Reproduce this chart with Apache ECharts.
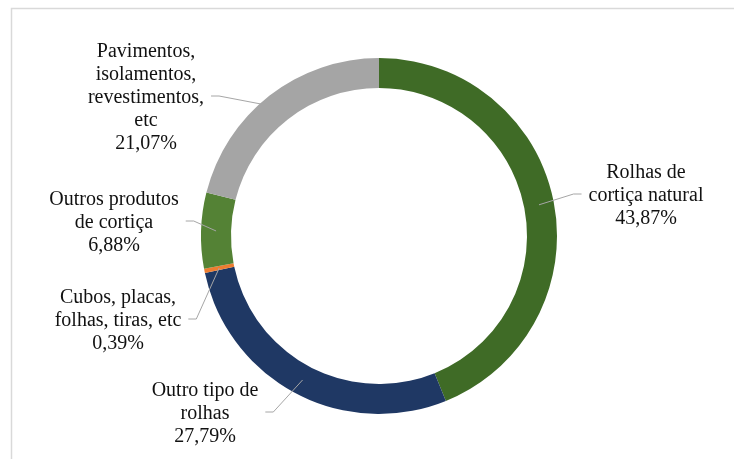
<!DOCTYPE html>
<html>
<head>
<meta charset="utf-8">
<script src="https://cdn.jsdelivr.net/npm/echarts@6/dist/echarts.min.js"></script>
<style>
  html, body { margin: 0; padding: 0; background: #ffffff; }
  #chart { width: 734px; height: 459px; }
</style>
</head>
<body>
<div id="chart"></div>
<script>
// Categories of cork products (label text, wrapped as shown) and their shares in %
const categories = [
  'Rolhas de\ncortiça natural',
  'Outro tipo de\nrolhas',
  'Cubos, placas,\nfolhas, tiras, etc',
  'Outros produtos\nde cortiça',
  'Pavimentos,\nisolamentos,\nrevestimentos,\netc'
];
const shares = [43.87, 27.79, 0.39, 6.88, 21.07];
const colors = ['#3f6b26', '#1f3864', '#ed7d31', '#548235', '#a5a5a5'];

// Ring geometry and where each label block sits
const CENTER = [379, 236];
const RADII = [148, 178];
const GUIDE_R = 163;
const labelSpots = [
  [646, 196],
  [205, 414],
  [118, 321],
  [114, 223],
  [146, 98]
];

const total = shares.reduce((a, b) => a + b, 0);
function midAngle(i) {
  let before = 0;
  for (let k = 0; k < i; k++) before += shares[k];
  return (before + shares[i] / 2) / total * 2 * Math.PI;
}

const pieData = categories.map((name, i) => ({
  name: name,
  value: shares[i],
  itemStyle: { color: colors[i] }
}));

const chart = echarts.init(document.getElementById('chart'), null, { renderer: 'canvas' });

chart.setOption({
  backgroundColor: '#ffffff',
  animation: false,
  graphic: [{
    type: 'rect',
    shape: { x: 11.5, y: 8.5, width: 900, height: 700 },
    style: { fill: 'none', stroke: '#d9d9d9', lineWidth: 1.5 },
    silent: true
  }],
  series: [
    // the coloured ring
    {
      type: 'pie',
      z: 2,
      center: CENTER,
      radius: RADII,
      startAngle: 90,
      clockwise: true,
      silent: true,
      itemStyle: { borderWidth: 0 },
      label: { show: false },
      labelLine: { show: false },
      data: pieData
    },
    // same ring, transparent, carrying labels and leader lines on top
    {
      type: 'pie',
      z: 3,
      center: CENTER,
      radius: RADII,
      startAngle: 90,
      clockwise: true,
      silent: true,
      avoidLabelOverlap: false,
      itemStyle: { color: 'rgba(0,0,0,0)', borderWidth: 0 },
      data: categories.map((name, i) => ({ name: name, value: shares[i] })),
      label: {
        show: true,
        position: 'outside',
        formatter: p => p.name + '\n' + p.value.toFixed(2).replace('.', ',') + '%',
        fontFamily: '"Liberation Serif", "Times New Roman", serif',
        fontSize: 20,
        lineHeight: 23,
        color: '#111111',
        align: 'center'
      },
      labelLine: {
        show: true,
        lineStyle: { color: '#a6a6a6', width: 1 }
      },
      labelLayout: function (p) {
        const i = p.dataIndex;
        const spot = labelSpots[i];
        const a = midAngle(i);
        const ring = [CENTER[0] + GUIDE_R * Math.sin(a), CENTER[1] - GUIDE_R * Math.cos(a)];
        const left = spot[0] < CENTER[0];
        const half = p.labelRect.width / 2;
        const edge = left ? spot[0] + half + 7 : spot[0] - half - 7;
        const lineY = spot[1] - 2;
        const knee = left ? edge + 8 : edge - 8;
        return {
          x: spot[0],
          y: spot[1],
          align: 'center',
          verticalAlign: 'middle',
          labelLinePoints: [ring, [knee, lineY], [edge, lineY]]
        };
      }
    }
  ]
});
</script>
</body>
</html>
